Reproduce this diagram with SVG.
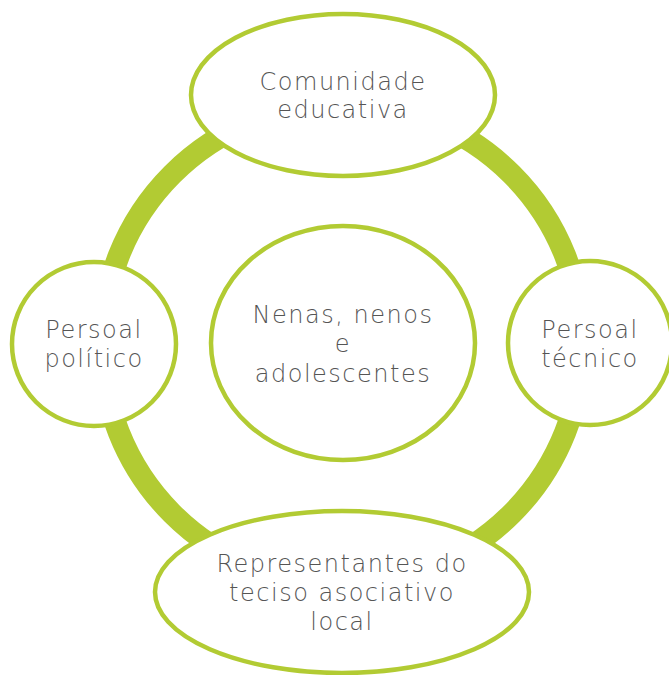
<svg xmlns="http://www.w3.org/2000/svg" width="669" height="675" viewBox="0 0 669 675">
<style>
.node{fill:#fff;stroke:#b2cb33;stroke-width:4.5}
.ring{fill:none;stroke:#b2cb33;stroke-width:22}
.t{font-family:"DejaVu Sans","Open Sans","Liberation Sans",sans-serif;font-weight:200;font-size:24px;letter-spacing:1.5px;fill:#555;text-anchor:middle}
</style>
<rect width="669" height="675" fill="#fff"/>
<g id="connectors">
<circle class="ring" cx="342" cy="344" r="240"/>
</g>
<g id="node-comunidade">
<ellipse class="node" cx="343" cy="95" rx="152" ry="81"/>
<text class="t" x="343" y="90">Comunidade</text>
<text class="t" x="343" y="118">educativa</text>
</g>
<g id="node-politico">
<circle class="node" cx="94" cy="344" r="82"/>
<text class="t" x="94" y="338">Persoal</text>
<text class="t" x="94" y="367">político</text>
</g>
<g id="node-tecnico">
<circle class="node" cx="590" cy="343" r="82"/>
<text class="t" x="590" y="338">Persoal</text>
<text class="t" x="590" y="367">técnico</text>
</g>
<g id="node-representantes">
<ellipse class="node" cx="342" cy="592" rx="187" ry="81"/>
<text class="t" x="342" y="572">Representantes do</text>
<text class="t" x="342" y="601">teciso asociativo</text>
<text class="t" x="342" y="630">local</text>
</g>
<g id="node-nenas">
<ellipse class="node" cx="343" cy="343" rx="132" ry="117"/>
<text class="t" x="343" y="323">Nenas, nenos</text>
<text class="t" x="343" y="352">e</text>
<text class="t" x="343" y="382">adolescentes</text>
</g>
</svg>
